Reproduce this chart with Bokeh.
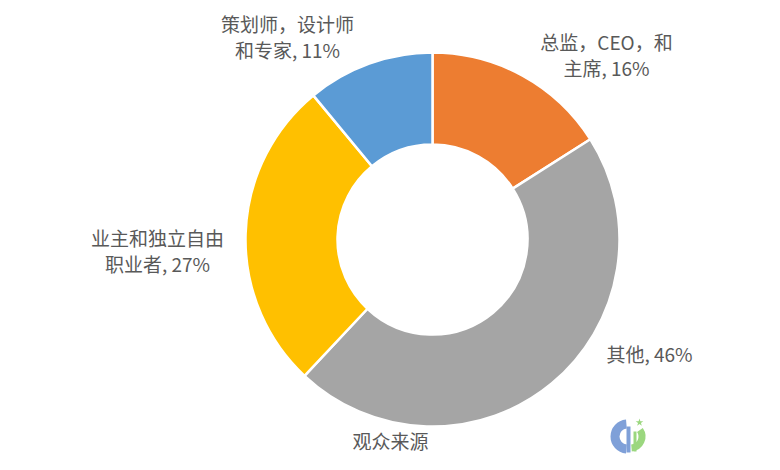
import math
from bokeh.plotting import figure
from bokeh.models import Range1d, ColumnDataSource
from bokeh.core.properties import value
from bokeh.embed import file_html
from bokeh.resources import INLINE

# ---- data ----
categories = ["总监，CEO，和主席", "其他", "业主和独立自由职业者", "策划师，设计师和专家"]
shares = [16, 46, 27, 11]
colors = ["#ED7D31", "#A5A5A5", "#FFC000", "#5B9BD5"]
label_lines = [
    ["总监，CEO，和", "主席, 16%"],
    ["其他, 46%"],
    ["业主和独立自由", "职业者, 27%"],
    ["策划师，设计师", "和专家, 11%"],
]
title = "观众来源"

# ---- layout (plot coordinates, y up) ----
W, H = 764, 454
cx, cy = 432, 215
r_out, r_in = 187, 95
label_pos = [(606, 400), (649, 101), (157, 204), (287, 418)]
line_gap = 26
font = "Noto Sans CJK SC"
text_color = "#595959"

p = figure(width=W, height=H, output_backend="svg", toolbar_location=None,
           x_range=Range1d(0, W), y_range=Range1d(0, H), min_border=0)
p.axis.visible = False
p.grid.visible = False
p.outline_line_color = None
p.background_fill_color = "white"

total = sum(shares)
starts, ends = [], []
cum = 0
for s in shares:
    starts.append(math.pi / 2 - 2 * math.pi * cum / total)
    cum += s
    ends.append(math.pi / 2 - 2 * math.pi * cum / total)

src = ColumnDataSource(dict(start=starts, end=ends, color=colors, cat=categories))
p.annular_wedge(x=cx, y=cy, inner_radius=r_in, outer_radius=r_out,
                start_angle="start", end_angle="end", direction="clock",
                fill_color="color", line_color="white", line_width=2.5, source=src)

# labels
xs, ys, ts = [], [], []
for (lx, ly), lines in zip(label_pos, label_lines):
    n = len(lines)
    for i, t in enumerate(lines):
        xs.append(lx)
        ys.append(ly + (n - 1) * line_gap / 2 - i * line_gap)
        ts.append(t)
p.text(x=xs, y=ys, text=ts, text_font=value(font), text_font_size="19px",
       text_color=text_color, text_align="center", text_baseline="middle")

# title at bottom
p.text(x=[390], y=[14], text=[title], text_font=value(font), text_font_size="19px",
       text_color=text_color, text_align="center", text_baseline="middle")

# small logo mark (decorative)
lx0, ly0 = 627, 18
p.annular_wedge(x=lx0, y=ly0, inner_radius=8, outer_radius=17,
                start_angle=math.radians(95), end_angle=math.radians(265),
                fill_color="#7FA0D8", line_color=None)
p.quad(left=lx0 - 1, right=lx0 + 3, bottom=ly0 - 16, top=ly0 + 10,
       fill_color="#7FA0D8", line_color=None)
p.annular_wedge(x=lx0 + 3, y=ly0, inner_radius=8, outer_radius=15,
                start_angle=math.radians(-85), end_angle=math.radians(35),
                fill_color="#9BD77F", line_color=None)
p.quad(left=lx0 + 6, right=lx0 + 9, bottom=ly0 - 15, top=ly0 + 5,
       fill_color="#9BD77F", line_color=None)
p.scatter(x=[lx0 + 12], y=[ly0 + 14], marker="star", size=8,
          fill_color="#9BD77F", line_color=None)

open("out.html", "w").write(file_html(p, INLINE))
